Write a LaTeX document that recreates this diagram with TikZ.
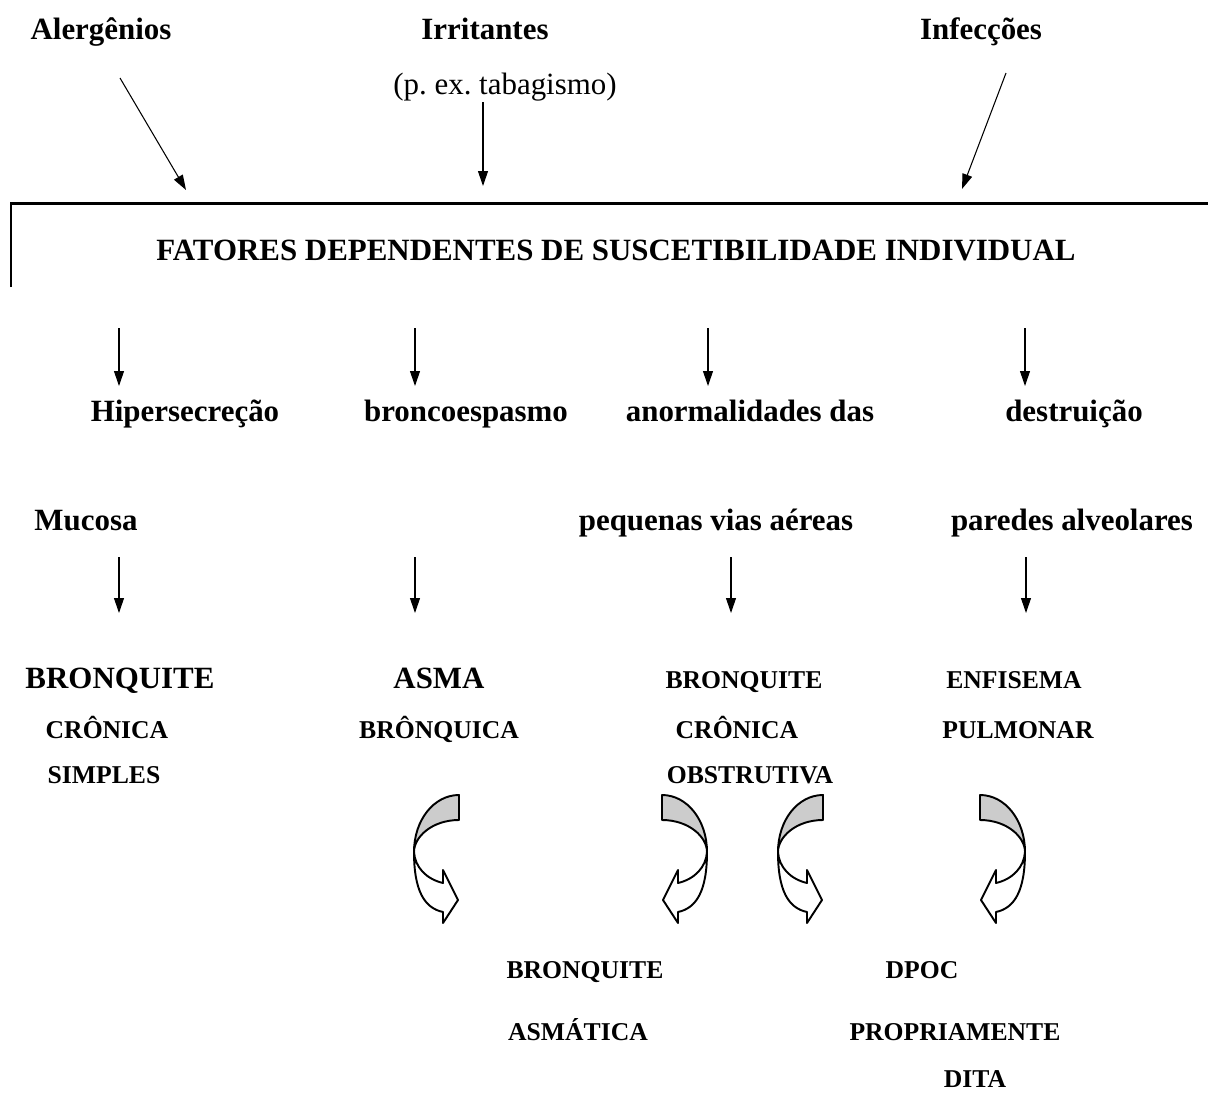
\documentclass[tikz,border=0pt]{standalone}
\usepackage{fontspec}
\setmainfont{Liberation Serif}
\usetikzlibrary{arrows.meta}
\frenchspacing

\newcommand{\bigtxt}{\fontsize{17.6}{20}\selectfont\bfseries}
\newcommand{\smalltxt}{\fontsize{14.6}{17}\selectfont\bfseries}

% curved band arrow: #1 = top corner, #2 = 1 (bends left) or -1 (bends right)
\newcommand{\bentarrow}[2]{%
  \begin{scope}[shift={#1}, xscale=#2, line width=1.1pt, line join=round]
    \draw[fill=black!20] (0,0) .. controls (-25,0) and (-45,25) .. (-45,57)
          .. controls (-45,42) and (-27,25) .. (0,25) -- cycle; % back
    \draw[fill=white] (-45,57) .. controls (-45,95) and (-35,113) .. (-16,117)
          -- (-16,128) -- (-1,105) -- (-16,75) -- (-16,88)
          .. controls (-33,84) and (-44,72) .. (-45,57) -- cycle; % front
  \end{scope}}

\begin{document}
\begin{tikzpicture}[x=0.02cm, y=-0.02cm,
    big/.style={anchor=base, inner sep=0pt, font=\bigtxt},
    small/.style={anchor=base, inner sep=0pt, font=\smalltxt},
    arr/.style={-{Triangle[length=0.3cm, width=0.2cm]}, line width=0.6pt}]
  \useasboundingbox (0,0) rectangle (1208,1113);

  % Causes
  \node[big] (alerg) at (101, 39) {Alergênios};
  \node[big] (irrit) at (485, 39) {Irritantes};
  \node[big] (infec) at (981, 39) {Infecções};
  \node[anchor=base, inner sep=0pt, font=\fontsize{17.6}{20}\selectfont] (tabag) at (505, 94) {(p. ex. tabagismo)};

  \coordinate (alergS) at (120, 78);   \coordinate (alergE) at (186, 190);
  \coordinate (irritS) at (483, 102);  \coordinate (irritE) at (483, 186);
  \coordinate (infecS) at (1006, 73);  \coordinate (infecE) at (962, 189);
  \draw[arr] (alergS) -- (alergE);
  \draw[arr] (irritS) -- (irritE);
  \draw[arr] (infecS) -- (infecE);

  % Susceptibility bracket
  \coordinate (brkA) at (11, 287);
  \coordinate (brkB) at (11, 203);
  \coordinate (brkC) at (1208, 203);
  \draw[line width=1.7pt] (brkA) -- (brkB) -- (brkC);
  \node[big] (fator) at (616, 260) {FATORES DEPENDENTES DE SUSCETIBILIDADE INDIVIDUAL};

  % First arrow row
  \coordinate (r1a) at (119, 328);   \coordinate (r1b) at (119, 386);
  \coordinate (r2a) at (415, 328);   \coordinate (r2b) at (415, 386);
  \coordinate (r3a) at (708, 328);   \coordinate (r3b) at (708, 386);
  \coordinate (r4a) at (1025, 328);  \coordinate (r4b) at (1025, 386);
  \draw[arr] (r1a) -- (r1b);
  \draw[arr] (r2a) -- (r2b);
  \draw[arr] (r3a) -- (r3b);
  \draw[arr] (r4a) -- (r4b);

  % Mechanisms
  \node[big] (hiper)  at (185, 421)  {Hipersecreção};
  \node[big] (bronc)  at (466, 421)  {broncoespasmo};
  \node[big] (anorm)  at (750, 421)  {anormalidades das};
  \node[big] (destr)  at (1074, 421) {destruição};
  \node[big] (mucos)  at (86, 530)   {Mucosa};
  \node[big] (peque)  at (716, 530)  {pequenas vias aéreas};
  \node[big] (pared)  at (1072, 530) {paredes alveolares};

  % Second arrow row
  \coordinate (s1a) at (119, 557);   \coordinate (s1b) at (119, 613);
  \coordinate (s2a) at (415, 557);   \coordinate (s2b) at (415, 613);
  \coordinate (s3a) at (731, 557);   \coordinate (s3b) at (731, 613);
  \coordinate (s4a) at (1026, 557);  \coordinate (s4b) at (1026, 613);
  \draw[arr] (s1a) -- (s1b);
  \draw[arr] (s2a) -- (s2b);
  \draw[arr] (s3a) -- (s3b);
  \draw[arr] (s4a) -- (s4b);

  % Diseases
  \node[big]   (bcsA) at (120, 688) {BRONQUITE};
  \node[small] (bcsB) at (107, 738) {CRÔNICA};
  \node[small] (bcsC) at (104, 783) {SIMPLES};
  \node[big]   (asmA) at (439, 688) {ASMA};
  \node[small] (asmB) at (439, 738) {BRÔNQUICA};
  \node[small] (bcoA) at (744, 688) {BRONQUITE};
  \node[small] (bcoB) at (737, 738) {CRÔNICA};
  \node[small] (bcoC) at (750, 783) {OBSTRUTIVA};
  \node[small] (enfA) at (1014, 688) {ENFISEMA};
  \node[small] (enfB) at (1018, 738) {PULMONAR};

  % Curved arrows
  \bentarrow{(459, 795)}{1}
  \bentarrow{(662, 795)}{-1}
  \bentarrow{(823, 795)}{1}
  \bentarrow{(980, 795)}{-1}

  % Overlaps
  \node[small] (basA) at (585, 978)  {BRONQUITE};
  \node[small] (basB) at (578, 1040) {ASMÁTICA};
  \node[small] (dpoA) at (922, 978)  {DPOC};
  \node[small] (dpoB) at (955, 1040) {PROPRIAMENTE};
  \node[small] (dpoC) at (975, 1087) {DITA};
\end{tikzpicture}
\end{document}
